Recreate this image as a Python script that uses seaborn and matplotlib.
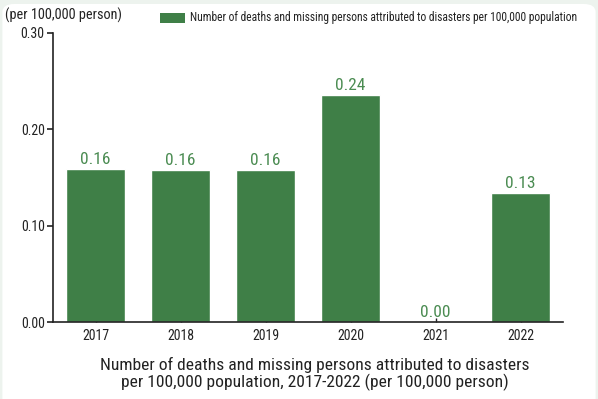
import matplotlib
matplotlib.use("Agg")
import matplotlib.pyplot as plt
from matplotlib import font_manager
from matplotlib.patches import FancyBboxPatch, Rectangle
import seaborn as sns
import pandas as pd

years = ["2017", "2018", "2019", "2020", "2021", "2022"]
rates = [0.159, 0.158, 0.158, 0.236, 0.0, 0.134]
yticks = [0.00, 0.10, 0.20, 0.30]

series_name = "Number of deaths and missing persons attributed to disasters per 100,000 population"
unit_label = "(per 100,000 person)"
caption = ("Number of deaths and missing persons attributed to disasters\n"
           "per 100,000 population, 2017-2022 (per 100,000 person)")

sns.set_theme(style="white")
installed = {f.name for f in font_manager.fontManager.ttflist}
narrow = [n for n in ["Liberation Sans Narrow", "Roboto Condensed", "Arial Narrow",
                      "Liberation Sans"] if n in installed]
plt.rcParams["font.family"] = narrow[:1] + ["DejaVu Sans"]

BAR = "#3f7f47"
LABEL = "#4b8c52"
INK = "#222222"

df = pd.DataFrame({"year": years, "rate": rates})

fig = plt.figure(figsize=(5.98, 3.99), dpi=100)
fig.patch.set_facecolor("#edf3ee")
card = FancyBboxPatch((0.004, -0.05), 0.992, 1.04, boxstyle="round,pad=0,rounding_size=0.02",
                      transform=fig.transFigure, facecolor="white", edgecolor="none")
card.set_zorder(-5)
fig.add_artist(card)

ax = fig.add_axes([53 / 598, 1 - 322 / 399, 510 / 598, 289 / 399])
ax.set_zorder(1)
ax.set_facecolor("none")
sns.barplot(data=df, x="year", y="rate", color=BAR, saturation=1, width=0.7, ax=ax, zorder=2)

for i, v in enumerate(rates):
    ax.text(i, v + 0.002, f"{v:.2f}", ha="center", va="bottom", fontsize=12.5, color=LABEL)

ax.set_xlim(-0.5, 5.5)
ax.set_ylim(0, 0.30)
ax.set_yticks(yticks)
ax.set_yticklabels([f"{t:.2f}" for t in yticks])
ax.set_xlabel("")
ax.set_ylabel("")
for s in ["top", "right"]:
    ax.spines[s].set_visible(False)
for s in ["left", "bottom"]:
    ax.spines[s].set_color(INK)
    ax.spines[s].set_linewidth(1.2)
ax.tick_params(axis="y", direction="out", length=4, width=1.2, color=INK, labelsize=10,
               labelcolor=INK, pad=2, left=True)
ax.tick_params(axis="x", direction="in", length=3, width=1, color=INK, labelsize=10,
               labelcolor=INK, pad=5, bottom=True)

fig.text(5 / 598, 1 - 15 / 399, unit_label, fontsize=10.3, color=INK, va="center", ha="left")

# legend entry
legend_box = Rectangle((160 / 598, 1 - 23 / 399), 25 / 598, 10 / 399,
                       transform=fig.transFigure, facecolor=BAR, edgecolor="none")
fig.add_artist(legend_box)
fig.text(190 / 598, 1 - 18 / 399, series_name, fontsize=8.3, color=INK, va="center", ha="left")

fig.text(315 / 598, 1 - 374 / 399, caption, fontsize=12.6, color=INK, ha="center", va="center",
         linespacing=1.12)

fig.savefig("out.png", dpi=100, facecolor=fig.get_facecolor())
